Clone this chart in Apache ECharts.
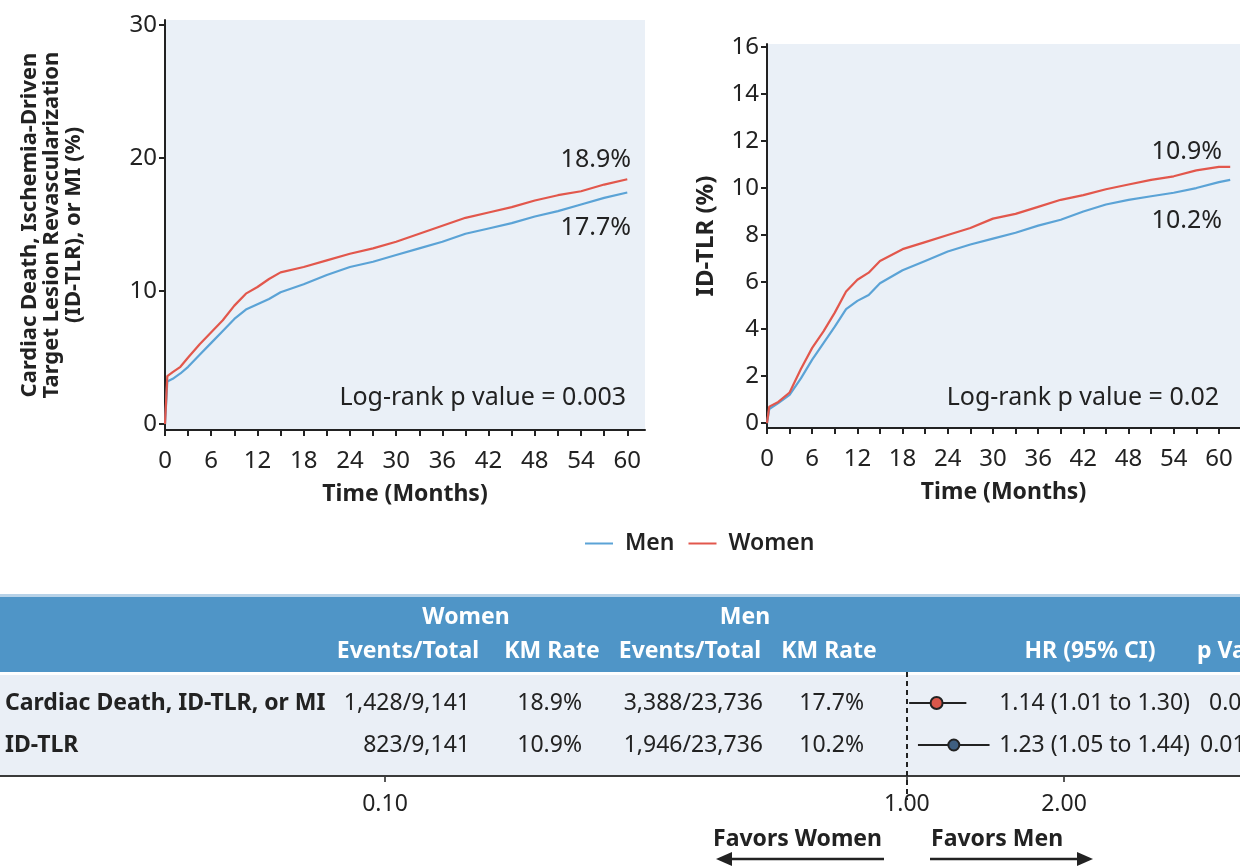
<!DOCTYPE html>
<html>
<head>
<meta charset="utf-8">
<script src="https://cdn.jsdelivr.net/npm/echarts@6/dist/echarts.min.js"></script>
<style>
html,body{margin:0;padding:0;background:#fff;}
#chart{width:1240px;height:867px;}
</style>
</head>
<body>
<div id="chart"></div>
<script>
// ---------------- DATA ----------------
// Panel A: Cardiac death, ID-TLR or MI (%)
const monthsA  = [0, 0.3, 1, 2, 3, 4.5, 6, 7.5, 9, 10.5, 12, 13.5, 15, 18, 21, 24, 27, 30, 33, 36, 39, 42, 45, 48, 51, 54, 57, 60];
const womenA   = [0, 3.6, 3.9, 4.3, 5.0, 6.0, 6.9, 7.8, 8.9, 9.8, 10.3, 10.9, 11.4, 11.8, 12.3, 12.8, 13.2, 13.7, 14.3, 14.9, 15.5, 15.9, 16.3, 16.8, 17.2, 17.5, 18.0, 18.4];
const menA     = [0, 3.2, 3.4, 3.8, 4.3, 5.2, 6.1, 7.0, 7.9, 8.6, 9.0, 9.4, 9.9, 10.5, 11.2, 11.8, 12.2, 12.7, 13.2, 13.7, 14.3, 14.7, 15.1, 15.6, 16.0, 16.5, 17.0, 17.4];
// Panel B: ID-TLR (%)
const monthsB  = [0, 0.3, 1.5, 3, 4.5, 6, 7.5, 9, 10.5, 12, 13.5, 15, 18, 21, 24, 27, 30, 33, 36, 39, 42, 45, 48, 51, 54, 57, 60, 61.5];
const womenB   = [0, 0.7, 0.9, 1.3, 2.3, 3.2, 3.9, 4.7, 5.6, 6.1, 6.4, 6.9, 7.4, 7.7, 8.0, 8.3, 8.7, 8.9, 9.2, 9.5, 9.7, 9.95, 10.15, 10.35, 10.5, 10.75, 10.9, 10.9];
const menB     = [0, 0.6, 0.85, 1.2, 1.9, 2.7, 3.4, 4.1, 4.85, 5.2, 5.45, 5.95, 6.5, 6.9, 7.3, 7.6, 7.85, 8.1, 8.4, 8.65, 9.0, 9.3, 9.5, 9.65, 9.8, 10.0, 10.25, 10.35];
const monthTicks = [0, 6, 12, 18, 24, 30, 36, 42, 48, 54, 60];
const monthMinorTicks = [0, 3, 6, 9, 12, 15, 18, 21, 24, 27, 30, 33, 36, 39, 42, 45, 48, 51, 54, 57, 60];
const yTicksA = [0, 10, 20, 30];
const yTicksB = [0, 2, 4, 6, 8, 10, 12, 14, 16];
const logRankP = ['0.003', '0.02'];

// Table
const outcomes    = ['Cardiac Death, ID-TLR, or MI', 'ID-TLR'];
const womenEvents = ['1,428/9,141', '823/9,141'];
const womenKM     = ['18.9%', '10.9%'];
const menEvents   = ['3,388/23,736', '1,946/23,736'];
const menKM       = ['17.7%', '10.2%'];
const hrValue     = [1.14, 1.23];
const hrLow       = [1.01, 1.05];
const hrHigh      = [1.30, 1.44];
const pValues     = ['0.04', '0.01'];
const hrTicks     = [0.1, 1, 2];

// ---------------- STYLE ----------------
const FONT = '"Noto Sans", "Open Sans", sans-serif';
const RED = '#e2574c';
const BLUE = '#5ba3d6';
const BG = '#eaf0f7';
const INK = '#222';
const TS = 23; // table font size

const chart = echarts.init(document.getElementById('chart'));

function pairs(x, y) { return x.map((t, i) => [t, y[i]]); }

function txt(text, x, y, opts) {
  opts = opts || {};
  return {
    type: 'text', silent: true, z: 20,
    style: {
      text: text, x: x, y: y,
      fill: opts.fill || INK,
      fontSize: opts.size || TS,
      fontWeight: opts.weight || 'normal',
      fontFamily: FONT,
      align: opts.align || 'left',
      verticalAlign: 'middle'
    }
  };
}

const graphics = [];
// KM annotations
graphics.push(txt(womenKM[0], 631, 160, {align: 'right', size: 25}));
graphics.push(txt(menKM[0], 631, 228, {align: 'right', size: 25}));
graphics.push(txt('Log-rank p value = ' + logRankP[0], 626, 398, {align: 'right', size: 25}));
graphics.push(txt(womenKM[1], 1222, 152, {align: 'right', size: 25}));
graphics.push(txt(menKM[1], 1222, 221, {align: 'right', size: 25}));
graphics.push(txt('Log-rank p value = ' + logRankP[1], 1219, 398, {align: 'right', size: 25}));

// Table background
graphics.push({type: 'rect', silent: true, z: 0, shape: {x: 0, y: 594, width: 1240, height: 3}, style: {fill: '#b7d2e8'}});
graphics.push({type: 'rect', silent: true, z: 0, shape: {x: 0, y: 597, width: 1240, height: 75}, style: {fill: '#4f95c7'}});
graphics.push({type: 'rect', silent: true, z: 0, shape: {x: 0, y: 675, width: 1240, height: 100}, style: {fill: '#eaeff6'}});
graphics.push({type: 'line', silent: true, z: 1, shape: {x1: 0, y1: 776, x2: 1240, y2: 776}, style: {stroke: '#3a3a3a', lineWidth: 2}});

// Header
const W = '#ffffff';
graphics.push(txt('Women', 466, 617, {align: 'center', weight: 'bold', fill: W}));
graphics.push(txt('Events/Total', 408, 651, {align: 'center', weight: 'bold', fill: W}));
graphics.push(txt('KM Rate', 552, 651, {align: 'center', weight: 'bold', fill: W}));
graphics.push(txt('Men', 745, 617, {align: 'center', weight: 'bold', fill: W}));
graphics.push(txt('Events/Total', 690, 651, {align: 'center', weight: 'bold', fill: W}));
graphics.push(txt('KM Rate', 829, 651, {align: 'center', weight: 'bold', fill: W}));
graphics.push(txt('HR (95% CI)', 1090, 651, {align: 'center', weight: 'bold', fill: W}));
graphics.push(txt('p Value', 1197, 651, {align: 'left', weight: 'bold', fill: W}));

// Rows
const rowY = [703, 745];
outcomes.forEach((o, i) => {
  const y = rowY[i];
  graphics.push(txt(o, 5, y, {weight: 'bold'}));
  graphics.push(txt(womenEvents[i], 470, y, {align: 'right'}));
  graphics.push(txt(womenKM[i], 582, y, {align: 'right'}));
  graphics.push(txt(menEvents[i], 763, y, {align: 'right'}));
  graphics.push(txt(menKM[i], 864, y, {align: 'right'}));
  graphics.push(txt(hrValue[i].toFixed(2) + ' (' + hrLow[i].toFixed(2) + ' to ' + hrHigh[i].toFixed(2) + ')', 1190, y, {align: 'right'}));
  graphics.push(txt(pValues[i], i === 0 ? 1209 : 1200, y, {align: 'left'}));
});

// Favors labels and arrows
graphics.push(txt('Favors Women', 882, 839, {align: 'right', weight: 'bold'}));
graphics.push(txt('Favors Men', 931, 839, {align: 'left', weight: 'bold'}));
graphics.push({type: 'line', silent: true, shape: {x1: 884, y1: 859, x2: 728, y2: 859}, style: {stroke: INK, lineWidth: 2.5}});
graphics.push({type: 'polygon', silent: true, shape: {points: [[716, 859], [732, 852], [732, 866]]}, style: {fill: INK}});
graphics.push({type: 'line', silent: true, shape: {x1: 930, y1: 859, x2: 1080, y2: 859}, style: {stroke: INK, lineWidth: 2.5}});
graphics.push({type: 'polygon', silent: true, shape: {points: [[1093, 859], [1077, 852], [1077, 866]]}, style: {fill: INK}});

// Forest data
const forestData = hrValue.map((v, i) => [v, hrLow[i], hrHigh[i], i + 1]);
const forestFill = ['#d9574b', '#3f5f80'];

function kmX(gridIndex, max) {
  return {
    type: 'value', gridIndex: gridIndex, min: 0, max: max,
    name: 'Time (Months)', nameLocation: 'middle', nameGap: 53,
    nameTextStyle: {fontFamily: FONT, fontSize: 23, fontWeight: 'bold', color: INK},
    axisLine: {show: true, onZero: false, lineStyle: {color: INK, width: 2}},
    axisTick: {show: true, customValues: monthMinorTicks, length: 6, lineStyle: {color: INK, width: 2}},
    axisLabel: {customValues: monthTicks, margin: 19, fontFamily: FONT, fontSize: 24, color: INK},
    splitLine: {show: false}
  };
}
function kmY(gridIndex, min, max, ticks, name, nameGap, nameSize) {
  return {
    type: 'value', gridIndex: gridIndex, min: min, max: max,
    name: name, nameLocation: 'middle', nameGap: nameGap,
    nameTextStyle: {fontFamily: FONT, fontSize: nameSize, fontWeight: 'bold', color: INK, lineHeight: 22, align: 'center'},
    axisLine: {show: true, onZero: false, lineStyle: {color: INK, width: 2}},
    axisTick: {show: true, customValues: ticks, length: 6, lineStyle: {color: INK, width: 2}},
    axisLabel: {customValues: ticks, margin: 8, fontFamily: FONT, fontSize: 24, color: INK},
    splitLine: {show: false}
  };
}

const option = {
  animation: false,
  backgroundColor: '#ffffff',
  textStyle: {fontFamily: FONT},
  legend: {
    left: 580, top: 527,
    data: ['Men', 'Women'],
    icon: 'rect', itemWidth: 28, itemHeight: 2, itemGap: 14,
    textStyle: {fontFamily: FONT, fontSize: 23, fontWeight: 600, color: INK, padding: [0, 0, 0, 7]}
  },
  grid: [
    {left: 165, top: 20, width: 480, height: 410, show: true, backgroundColor: BG, borderWidth: 0},
    {left: 767, top: 44, width: 473, height: 384, show: true, backgroundColor: BG, borderWidth: 0},
    {left: 385, top: 672, width: 679, height: 128, show: false}
  ],
  xAxis: [
    kmX(0, 62.3),
    kmX(1, 62.8),
    {
      type: 'log', logBase: 10, gridIndex: 2, min: 0.1, max: 2, position: 'bottom', offset: -25,
      axisLine: {show: false},
      axisTick: {show: true, customValues: hrTicks, length: 7, lineStyle: {color: INK, width: 1.5}},
      axisLabel: {customValues: hrTicks, margin: 18, fontFamily: FONT, fontSize: 23, color: INK,
                  formatter: v => Number(v).toFixed(2)},
      splitLine: {show: false}
    }
  ],
  yAxis: [
    kmY(0, -0.45, 30.37, yTicksA, 'Cardiac Death, Ischemia-Driven\nTarget Lesion Revascularization\n(ID-TLR), or MI (%)', 80, 22),
    kmY(1, -0.21, 16.13, yTicksB, 'ID-TLR (%)', 50, 24),
    {type: 'value', gridIndex: 2, min: 0.262, max: 3.31, inverse: true, show: false}
  ],
  series: [
    {name: 'Men', type: 'line', xAxisIndex: 0, yAxisIndex: 0, data: pairs(monthsA, menA), showSymbol: false, lineStyle: {color: BLUE, width: 2.2}, itemStyle: {color: BLUE}, z: 3},
    {name: 'Women', type: 'line', xAxisIndex: 0, yAxisIndex: 0, data: pairs(monthsA, womenA), showSymbol: false, lineStyle: {color: RED, width: 2.2}, itemStyle: {color: RED}, z: 4},
    {name: 'Men', type: 'line', xAxisIndex: 1, yAxisIndex: 1, data: pairs(monthsB, menB), showSymbol: false, lineStyle: {color: BLUE, width: 2.2}, itemStyle: {color: BLUE}, z: 3},
    {name: 'Women', type: 'line', xAxisIndex: 1, yAxisIndex: 1, data: pairs(monthsB, womenB), showSymbol: false, lineStyle: {color: RED, width: 2.2}, itemStyle: {color: RED}, z: 4},
    {
      name: 'HR', type: 'custom', xAxisIndex: 2, yAxisIndex: 2, data: forestData, z: 10,
      encode: {x: [0, 1, 2], y: 3},
      renderItem: function (params, api) {
        const row = api.value(3);
        const p0 = api.coord([api.value(1), row]);
        const p1 = api.coord([api.value(2), row]);
        const pc = api.coord([api.value(0), row]);
        return {
          type: 'group',
          children: [
            {type: 'line', shape: {x1: p0[0], y1: p0[1], x2: p1[0], y2: p1[1]}, style: {stroke: INK, lineWidth: 2}},
            {type: 'circle', shape: {cx: pc[0], cy: pc[1], r: params.dataIndex === 0 ? 6 : 5.5}, style: {fill: forestFill[params.dataIndex], stroke: INK, lineWidth: 2}}
          ]
        };
      },
      markLine: {
        silent: true, symbol: 'none', label: {show: false},
        lineStyle: {color: INK, type: [5, 4], width: 2},
        data: [{xAxis: 1}]
      }
    }
  ],
  graphic: graphics
};

chart.setOption(option);
</script>
</body>
</html>
